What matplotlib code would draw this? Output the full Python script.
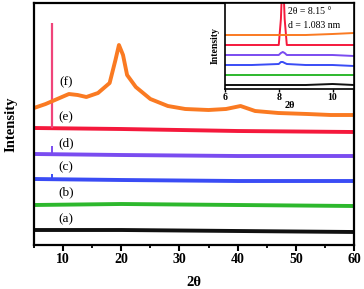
import matplotlib
matplotlib.use("Agg")
import matplotlib.pyplot as plt
from matplotlib.ticker import MultipleLocator

plt.rcParams['font.family'] = ['Liberation Serif', 'DejaVu Serif']

# ---- main chart data (offset intensity, arbitrary units) ----
flat_x = [5, 20, 40, 60]
a_black = [15, 15, 14, 13]
b_green = [40, 41, 40, 39]
c_blue = [66, 65, 64, 64]
d_purple = [91, 90, 89, 89]
e_red = [117, 116, 114, 113]

# sharp reflections at 2θ ≈ 8.15° (base, top)
spike_x = 8.15
spike_red = (117, 222)
spike_purple = (91, 99)
spike_blue = (66, 71)

f_x = [5, 7, 9, 11, 12.5, 14, 16, 18, 19, 19.6, 20.3, 21, 22.5, 25, 28, 31,
       35, 38, 40.5, 43, 47, 52, 56, 60]
f_orange = [137, 141, 146, 151, 150, 148, 152, 162, 185, 200, 190, 170, 158,
            146, 139, 136, 135, 136, 139, 134, 132, 131, 130, 130]

labels = ['(a)', '(b)', '(c)', '(d)', '(e)', '(f)']
label_y = [26, 53, 78, 102, 128, 163]

xticks_main = [10, 20, 30, 40, 50, 60]

# ---- inset data ----
in_x = [6, 7, 8.0, 8.08, 8.15, 8.22, 8.3, 9, 10, 10.8]
in_black = [4, 4, 4, 4, 4, 4, 4, 4, 5, 4]
in_green = [14, 14, 14, 14, 14, 14, 14, 14, 14, 14]
in_blue = [24, 24, 25, 27, 27, 26, 25, 24, 24, 23]
in_purple = [34, 34, 34, 36, 37, 36, 34, 34, 34, 33]
in_red = [44, 44, 44, 70, 120, 70, 44, 44, 44, 44]
in_orange = [54, 54, 54, 54, 54, 54, 54, 54, 55, 56]
xticks_inset = [6, 8, 10]

colors = {
    'black': '#111111',
    'green': '#2DB82D',
    'blue': '#3A4CF5',
    'purple': '#7A4CF0',
    'red': '#F5193C',
    'orange': '#FA7A22',
    'spike': '#F0447A',
}

fig = plt.figure(figsize=(3.64, 2.89), dpi=100)
ax = fig.add_axes([34/364, 1-245/289, (354-34)/364, (245-3)/289])

lw = 2.8
ax.plot(flat_x, a_black, color=colors['black'], lw=lw)
ax.plot(flat_x, b_green, color=colors['green'], lw=lw)
ax.plot(flat_x, c_blue, color=colors['blue'], lw=lw)
ax.plot(flat_x, d_purple, color=colors['purple'], lw=lw)
ax.plot(flat_x, e_red, color=colors['red'], lw=lw)
ax.vlines(spike_x, *spike_red, color=colors['spike'], lw=1.6)
ax.vlines(spike_x, *spike_purple, color=colors['purple'], lw=1.4)
ax.vlines(spike_x, *spike_blue, color=colors['blue'], lw=1.4)
ax.plot(f_x, f_orange, color=colors['orange'], lw=lw)

for lab, ly in zip(labels, label_y):
    ax.text(10.5, ly, lab, fontsize=9.5, ha='center', va='center')

ax.set_xlim(5, 60)
ax.set_ylim(0, 242)
ax.set_xticks(xticks_main)
ax.xaxis.set_minor_locator(MultipleLocator(5))
ax.set_yticks([])
ax.tick_params(axis='x', which='major', direction='out', length=4, width=1.5,
               labelsize=10, pad=2)
ax.tick_params(axis='x', which='minor', direction='out', length=2.5, width=1.3)
for lbl in ax.get_xticklabels():
    lbl.set_fontweight('bold')
for s in ax.spines.values():
    s.set_linewidth(1.6)
ax.set_xlabel('2θ', fontsize=10.5, fontweight='bold', labelpad=7)
ax.set_ylabel('Intensity', fontsize=10.5, fontweight='bold', labelpad=12)

# ---- inset ----
ins = fig.add_axes([225/364, 1-89/289, (354-225)/364, (89-3)/289])
ilw = 1.4
ins.plot(in_x, in_black, color=colors['black'], lw=ilw)
ins.plot(in_x, in_green, color=colors['green'], lw=ilw)
ins.plot(in_x, in_blue, color=colors['blue'], lw=ilw)
ins.plot(in_x, in_purple, color=colors['purple'], lw=ilw)
ins.plot(in_x, in_red, color=colors['red'], lw=ilw)
ins.plot(in_x, in_orange, color=colors['orange'], lw=ilw)
ins.set_xlim(6, 10.8)
ins.set_ylim(0, 86)
ins.set_xticks(xticks_inset)
ins.set_yticks([])
ins.tick_params(axis='x', direction='out', length=2, width=1, labelsize=7, pad=1)
for lbl in ins.get_xticklabels():
    lbl.set_fontweight('bold')
for s in ins.spines.values():
    s.set_linewidth(1.2)
ins.set_xlabel('2θ', fontsize=7.5, fontweight='bold', labelpad=-1)
ins.set_ylabel('Intensity', fontsize=7, fontweight='bold', labelpad=4)
ins.text(8.35, 77, '2θ = 8.15 °', fontsize=7, ha='left', va='center')
ins.text(8.35, 64, 'd = 1.083 nm', fontsize=7, ha='left', va='center')

fig.savefig('out.png', dpi=100)
